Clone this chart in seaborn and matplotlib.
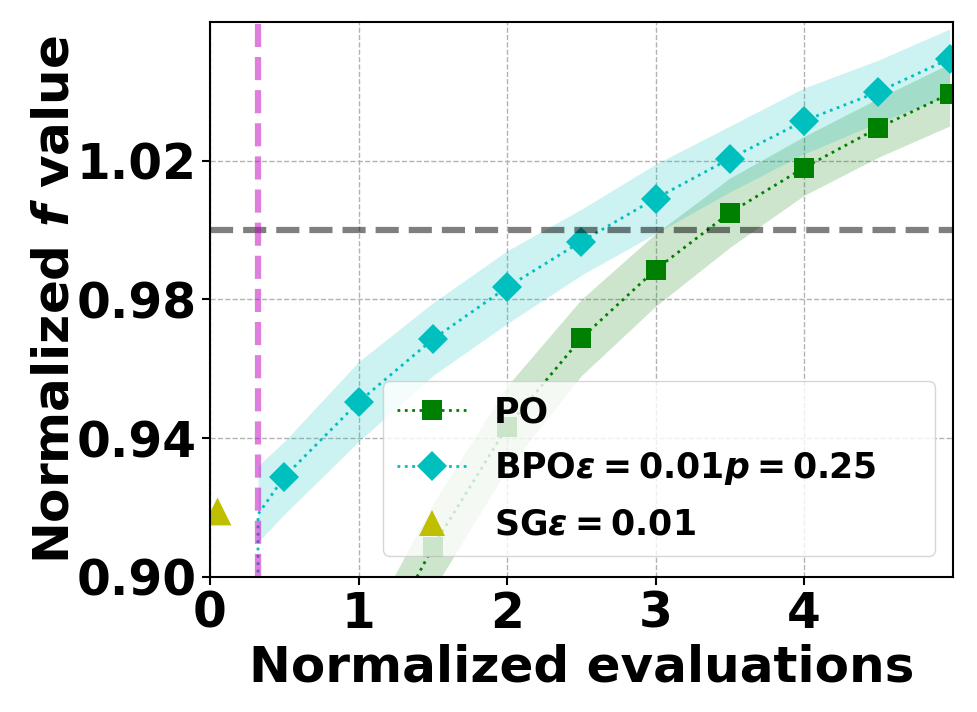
import numpy as np
import seaborn as sns
import matplotlib
matplotlib.use("Agg")
import matplotlib.pyplot as plt
from matplotlib.lines import Line2D
from matplotlib.ticker import FormatStrFormatter

# PO curve (mean + band)
po_x = [1.0, 1.5, 2.0, 2.5, 3.0, 3.5, 4.0, 4.5, 4.98]
po_y = [0.868, 0.9086, 0.9432, 0.9688, 0.9886, 1.0050, 1.0180, 1.0295, 1.0393]
po_lo = [0.855, 0.896, 0.931, 0.958, 0.978, 0.995, 1.010, 1.021, 1.030]
po_hi = [0.881, 0.921, 0.955, 0.980, 0.999, 1.015, 1.027, 1.038, 1.048]

# BPO curve, starts at the vertical marker
bpo_x = [0.323, 0.323, 0.5, 1.0, 1.5, 2.0, 2.5, 3.0, 3.5, 4.0, 4.5, 4.98]
bpo_y = [0.88, 0.918, 0.9288, 0.9504, 0.9685, 0.9835, 0.9967, 1.0091, 1.0206, 1.0315, 1.0399, 1.0494]
bpo_lo = [0.910, 0.918, 0.939, 0.958, 0.973, 0.987, 0.999, 1.011, 1.022, 1.031, 1.039]
bpo_hi = [0.932, 0.939, 0.962, 0.979, 0.994, 1.006, 1.019, 1.030, 1.041, 1.049, 1.058]

# SG single point
sg_x = [0.045]
sg_y = [0.919]

ref_y = 1.0
ref_x = 0.323

labels = ["PO", r"BPO$\varepsilon=0.01 p=0.25$", r"SG$\varepsilon=0.01$"]

sns.set_style("ticks")
plt.rcParams["font.family"] = ["DejaVu Sans"]
plt.rcParams["font.weight"] = "bold"
plt.rcParams["text.color"] = "black"
plt.rcParams["axes.labelcolor"] = "black"
plt.rcParams["xtick.color"] = "black"
plt.rcParams["ytick.color"] = "black"
plt.rcParams["mathtext.fontset"] = "custom"
plt.rcParams["mathtext.rm"] = "DejaVu Sans:bold"
plt.rcParams["mathtext.bf"] = "DejaVu Sans:bold"
plt.rcParams["mathtext.it"] = "DejaVu Sans:italic:bold"

fig = plt.figure(figsize=(9.77, 7.12), dpi=100)
ax = fig.add_axes([0.215, 0.19, 0.76, 0.779])

ax.fill_between(po_x, po_lo, po_hi, color="g", alpha=0.2, linewidth=0)
ax.fill_between(bpo_x[1:], bpo_lo, bpo_hi, color="c", alpha=0.2, linewidth=0)

sns.lineplot(x=po_x, y=po_y, ax=ax, estimator=None, sort=False, color="g",
             linestyle=":", linewidth=2, marker="s", markersize=15,
             markeredgewidth=0, markeredgecolor="g")
sns.lineplot(x=bpo_x, y=bpo_y, ax=ax, estimator=None, sort=False, color="c",
             linestyle=":", linewidth=2, marker="D", markersize=15,
             markeredgewidth=0, markeredgecolor="c",
             markevery=list(range(2, len(bpo_x))))
sns.scatterplot(x=sg_x, y=sg_y, ax=ax, marker="^", s=400, color="y",
                linewidth=0)

ax.axhline(ref_y, color="k", alpha=0.5, linestyle="--", linewidth=4.5)
ax.axvline(ref_x, color="m", alpha=0.5, linestyle="--", linewidth=4.5)

ax.set_xlim(0, 5)
ax.set_ylim(0.90, 1.06)
ax.set_xticks([0, 1, 2, 3, 4])
ax.set_yticks([0.90, 0.94, 0.98, 1.02])
ax.yaxis.set_major_formatter(FormatStrFormatter("%.2f"))
ax.grid(True, linestyle="--", linewidth=1, color="0.7")
ax.tick_params(labelsize=35, width=1.5, length=6, color="k")
for s in ax.spines.values():
    s.set_color("k")
    s.set_linewidth(1.5)

ax.set_xlabel("Normalized evaluations", fontsize=36, fontweight="bold")
ax.set_ylabel(r"Normalized $f$ value", fontsize=36, fontweight="bold", labelpad=-1)

handles = [
    Line2D([], [], color="g", linestyle=":", linewidth=2, marker="s", markersize=15, markeredgewidth=0),
    Line2D([], [], color="c", linestyle=":", linewidth=2, marker="D", markersize=15, markeredgewidth=0),
    Line2D([], [], color="y", linestyle="none", marker="^", markersize=19, markeredgewidth=0),
]
ax.legend(handles, labels, loc="lower left", bbox_to_anchor=(0.233, 0.038, 0.743, 0.3),
          mode="expand", borderaxespad=0, labelspacing=0.6,
          prop={"weight": "bold", "size": 25})

fig.savefig("out.png", dpi=100)
